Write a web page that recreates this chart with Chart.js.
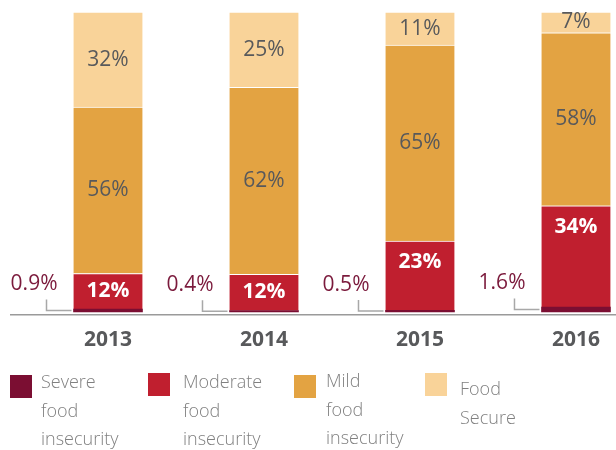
<!DOCTYPE html>
<html>
<head>
<meta charset="utf-8">
<style>
  html, body { margin: 0; padding: 0; background: #fff; }
  #chart { display: block; }
</style>
<script src="https://cdn.jsdelivr.net/npm/chart.js@4/dist/chart.umd.min.js"></script>
</head>
<body>
<canvas id="chart" width="616" height="450"></canvas>
<script>
// ======================================
// Data
// ======================================
const years = ['2013', '2014', '2015', '2016'];
const severe = [0.9, 0.4, 0.5, 1.6];
const moderate = [12, 12, 23, 34];
const mild = [56, 62, 65, 58];
const foodSecure = [32, 25, 11, 7];

const seriesLabels = [
  ['Severe', 'food', 'insecurity'],
  ['Moderate', 'food', 'insecurity'],
  ['Mild', 'food', 'insecurity'],
  ['Food', 'Secure']
];
const seriesColors = ['#7B0E32', '#C01F2F', '#E3A342', '#F9D399'];

const FONT = "'Open Sans', 'Noto Sans', sans-serif";
const TEXT_GREY = '#58595B';

// bars are drawn as share of each year's total (all reach the top)
const totals = years.map((_, i) => severe[i] + moderate[i] + mild[i] + foodSecure[i]);
const norm = arr => arr.map((v, i) => v / totals[i] * 100);
const rawSeries = [severe, moderate, mild, foodSecure];

// ======================================
// Labels, leaders, axis line and legend
// ======================================
const decorPlugin = {
  id: 'decor',
  afterDatasetsDraw(chart) {
    const ctx = chart.ctx;
    const area = chart.chartArea;
    ctx.save();

    // baseline
    ctx.strokeStyle = '#9A9A9A';
    ctx.lineWidth = 1.5;
    ctx.beginPath();
    ctx.moveTo(10, area.bottom + 3);
    ctx.lineTo(616, area.bottom + 3);
    ctx.stroke();

    ctx.textAlign = 'center';
    ctx.textBaseline = 'middle';

    rawSeries.forEach((series, d) => {
      const meta = chart.getDatasetMeta(d);
      meta.data.forEach((bar, i) => {
        const top = bar.y, bottom = bar.base;
        const h = bottom - top;
        const txt = series[i] + '%';
        if (d === 0) {
          // severe: label outside with leader line
          const left = bar.x - bar.width / 2;
          const midY = (top + bottom) / 2;
          const ly = midY - 26;
          ctx.strokeStyle = '#A8A8A8';
          ctx.lineWidth = 1.5;
          ctx.beginPath();
          ctx.moveTo(left - 27, ly + 15);
          ctx.lineTo(left - 27, midY);
          ctx.lineTo(left - 2, midY);
          ctx.stroke();
          ctx.fillStyle = '#7B1A3C';
          ctx.font = '21px ' + FONT;
          ctx.textAlign = 'right';
          ctx.fillText(txt, left - 16, ly);
          ctx.textAlign = 'center';
        } else if (d === 1) {
          ctx.fillStyle = '#FFFFFF';
          ctx.font = 'bold 21px ' + FONT;
          ctx.fillText(txt, bar.x, top + Math.min(h / 2, 21));
        } else {
          ctx.fillStyle = TEXT_GREY;
          ctx.font = '21px ' + FONT;
          ctx.fillText(txt, bar.x, (top + bottom) / 2);
        }
      });
    });

    // legend
    const legendItems = [
      { box: [10, 375], text: [41, 383] },
      { box: [148, 373], text: [183, 383] },
      { box: [294, 375], text: [326, 382] },
      { box: [425, 373], text: [460, 390] }
    ];
    ctx.textAlign = 'left';
    ctx.font = '300 18px ' + FONT;
    legendItems.forEach((item, k) => {
      ctx.fillStyle = seriesColors[k];
      ctx.fillRect(item.box[0], item.box[1], 22, 23);
      ctx.fillStyle = '#808080';
      seriesLabels[k].forEach((line, j) => {
        ctx.fillText(line, item.text[0], item.text[1] + j * 28.5);
      });
    });

    ctx.restore();
  }
};

// ======================================
// Chart
// ======================================
const datasets = rawSeries.map((s, d) => ({
  label: seriesLabels[d].join(' '),
  data: norm(s),
  backgroundColor: seriesColors[d],
  borderColor: '#FFFFFF',
  borderWidth: d === 0 ? 0 : { top: 1, left: 0, right: 0, bottom: 0 },
  borderSkipped: false,
  barThickness: 69,
  clip: false
}));

new Chart(document.getElementById('chart'), {
  type: 'bar',
  data: { labels: years, datasets: datasets },
  options: {
    responsive: false,
    animation: false,
    devicePixelRatio: 1,
    layout: { padding: { left: 108, right: 38, top: 12, bottom: 81 } },
    plugins: {
      legend: { display: false },
      tooltip: { enabled: false }
    },
    scales: {
      x: {
        stacked: true,
        offset: false,
        grid: { display: false, drawTicks: false },
        border: { display: false },
        ticks: {
          color: TEXT_GREY,
          padding: 16,
          font: { family: FONT, size: 21, weight: 'bold' }
        }
      },
      y: {
        stacked: true,
        display: false,
        min: 0,
        max: 100
      }
    }
  },
  plugins: [decorPlugin]
});
</script>
</body>
</html>
